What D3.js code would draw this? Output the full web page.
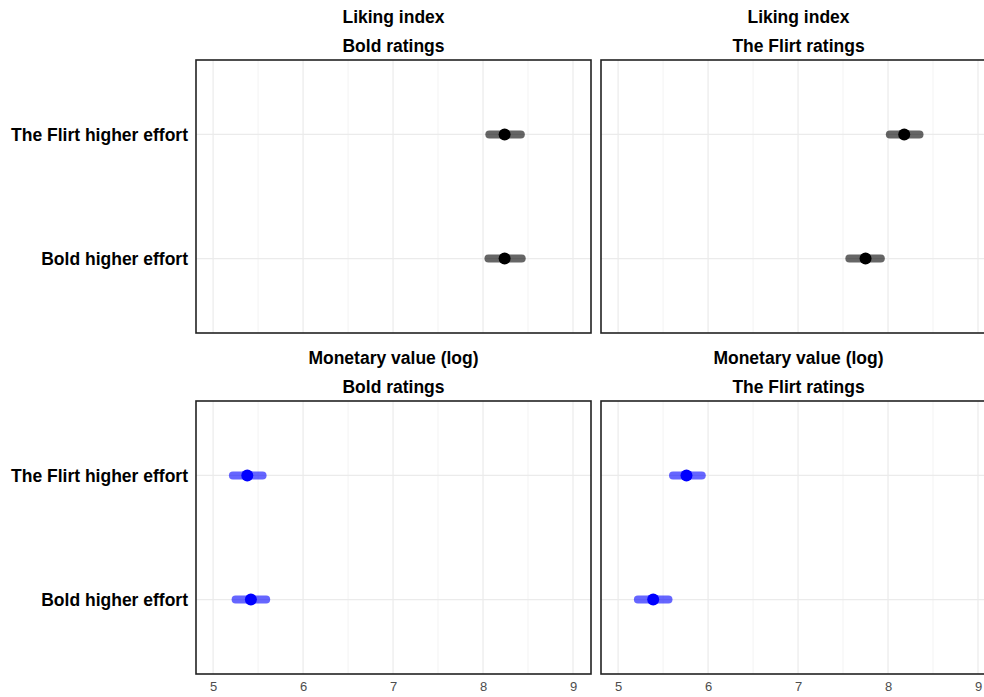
<!DOCTYPE html>
<html>
<head>
<meta charset="utf-8">
<script src="https://cdn.jsdelivr.net/npm/d3@7"></script>
<style>
  body { margin: 0; background: #fff; }
  svg { display: block; font-family: "Liberation Sans", Arial, sans-serif; }
</style>
</head>
<body>
<div id="chart"></div>
<script>
// data
var measures = ["Liking index", "Monetary value (log)"]
var ratings = ["Bold ratings", "The Flirt ratings"]
var conditions = ["The Flirt higher effort", "Bold higher effort"]
var xTicks = [5, 6, 7, 8, 9]

// one entry per panel: [measure, rating, condition, estimate, low, high]
var estimates = [
  ["Liking index", "Bold ratings", "The Flirt higher effort", 8.24, 8.07, 8.42],
  ["Liking index", "Bold ratings", "Bold higher effort", 8.24, 8.06, 8.43],
  ["Liking index", "The Flirt ratings", "The Flirt higher effort", 8.18, 8.02, 8.35],
  ["Liking index", "The Flirt ratings", "Bold higher effort", 7.75, 7.57, 7.92],
  ["Monetary value (log)", "Bold ratings", "The Flirt higher effort", 5.38, 5.22, 5.55],
  ["Monetary value (log)", "Bold ratings", "Bold higher effort", 5.42, 5.25, 5.59],
  ["Monetary value (log)", "The Flirt ratings", "The Flirt higher effort", 5.76, 5.61, 5.93],
  ["Monetary value (log)", "The Flirt ratings", "Bold higher effort", 5.39, 5.22, 5.56]
]
var measureColors = { "Liking index": "#000000", "Monetary value (log)": "#0000ff" }

var width = 984, height = 697
var svg = d3.select("#chart").append("svg")
  .attr("width", width).attr("height", height)

var panelW = 395, panelH = 273
var panelX = [196, 601]
var panelY = [60, 401]
var titleSize = 17.5

var x = d3.scaleLinear().domain([4.81, 9.2]).range([0, panelW])
var y = d3.scalePoint().domain(conditions).range([0, panelH]).padding(0.6)

measures.forEach(function (m, mi) {
  ratings.forEach(function (r, ri) {
    var g = svg.append("g")
      .attr("transform", "translate(" + panelX[ri] + "," + panelY[mi] + ")")

    // strip titles
    g.append("text").attr("x", panelW / 2).attr("y", -37)
      .attr("text-anchor", "middle").attr("font-size", titleSize).attr("font-weight", "bold")
      .text(m)
    g.append("text").attr("x", panelW / 2).attr("y", -8)
      .attr("text-anchor", "middle").attr("font-size", titleSize).attr("font-weight", "bold")
      .text(r)

    // grid
    var minor = d3.range(4.5, 9.6, 1).filter(function (v) { return v > 4.81 && v < 9.2 })
    g.selectAll(".minor").data(minor).enter().append("line")
      .attr("x1", x).attr("x2", x).attr("y1", 0).attr("y2", panelH)
      .attr("stroke", "#f3f3f3").attr("stroke-width", 1)
    g.selectAll(".major").data(xTicks).enter().append("line")
      .attr("x1", x).attr("x2", x).attr("y1", 0).attr("y2", panelH)
      .attr("stroke", "#ebebeb").attr("stroke-width", 1.2)
    g.selectAll(".hgrid").data(conditions).enter().append("line")
      .attr("x1", 0).attr("x2", panelW).attr("y1", y).attr("y2", y)
      .attr("stroke", "#ebebeb").attr("stroke-width", 1.2)

    var rows = estimates.filter(function (d) { return d[0] === m && d[1] === r })
    var col = measureColors[m]
    g.selectAll(".ci").data(rows).enter().append("line")
      .attr("x1", function (d) { return x(d[4]) })
      .attr("x2", function (d) { return x(d[5]) })
      .attr("y1", function (d) { return y(d[2]) })
      .attr("y2", function (d) { return y(d[2]) })
      .attr("stroke", col).attr("stroke-opacity", 0.6)
      .attr("stroke-width", 8).attr("stroke-linecap", "round")
    g.selectAll(".pt").data(rows).enter().append("circle")
      .attr("cx", function (d) { return x(d[3]) })
      .attr("cy", function (d) { return y(d[2]) })
      .attr("r", 6).attr("fill", col)

    // border
    g.append("rect").attr("width", panelW).attr("height", panelH)
      .attr("fill", "none").attr("stroke", "#222").attr("stroke-width", 1.6)

    // y labels on left panels
    if (ri === 0) {
      g.selectAll(".ylab").data(conditions).enter().append("text")
        .attr("x", -8).attr("y", y).attr("dy", "0.35em")
        .attr("text-anchor", "end").attr("font-size", titleSize).attr("font-weight", "bold")
        .attr("fill", "#000")
        .text(function (d) { return d })
    }

    // x axis on bottom panels
    if (mi === 1) {
      var ax = g.append("g").attr("transform", "translate(0," + panelH + ")")
        .call(d3.axisBottom(x).tickValues(xTicks).tickSize(0).tickPadding(8).tickFormat(d3.format("d")))
      ax.select(".domain").remove()
      ax.selectAll("text").attr("font-size", 13).attr("fill", "#4d4d4d")
        .attr("font-family", "\"Liberation Sans\", Arial, sans-serif")
    }
  })
})
</script>
</body>
</html>
